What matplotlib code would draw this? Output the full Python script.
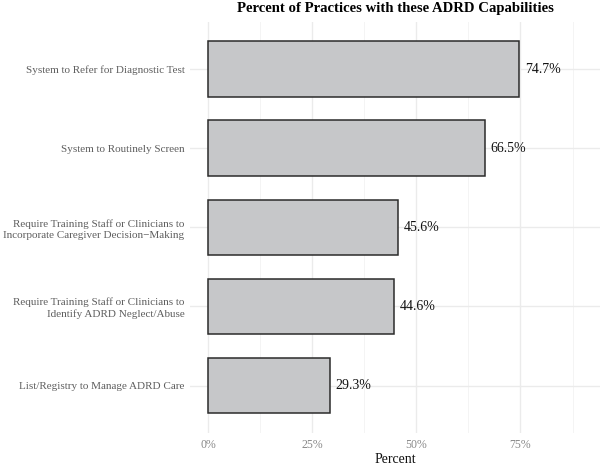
import matplotlib
matplotlib.use("Agg")
import matplotlib.pyplot as plt
from matplotlib.ticker import MultipleLocator, FuncFormatter

# data, top to bottom as in the chart
capabilities = [
    "System to Refer for Diagnostic Test",
    "System to Routinely Screen",
    "Require Training Staff or Clinicians to\nIncorporate Caregiver Decision\u2212Making",
    "Require Training Staff or Clinicians to\nIdentify ADRD Neglect/Abuse",
    "List/Registry to Manage ADRD Care",
]
percents = [74.7, 66.5, 45.6, 44.6, 29.3]

plt.rcParams['font.family'] = ['Liberation Serif', 'DejaVu Serif']

fig = plt.figure(figsize=(6, 4.65), dpi=100)
ax = fig.add_axes([190 / 600, 1 - 433 / 465, 410 / 600, (433 - 21.6) / 465])

ypos = list(range(len(capabilities)))[::-1]
ax.barh(ypos, percents, height=0.7, color="#C6C7C9", edgecolor="#2b2b2b",
        linewidth=1.1, zorder=3)

for y, p in zip(ypos, percents):
    ax.text(p + 1.3, y, f"{p}%", va="center", ha="left", fontsize=10,
            color="#111111", zorder=4)

ax.set_xlim(-4.4, 94.1)
ax.set_ylim(-0.6, len(capabilities) - 0.4)
ax.set_yticks(ypos)
ax.set_yticklabels(capabilities, fontsize=8.0, color="#5e5e5e", linespacing=1.3)
ax.xaxis.set_major_locator(MultipleLocator(25))
ax.xaxis.set_minor_locator(MultipleLocator(12.5))
ax.xaxis.set_major_formatter(FuncFormatter(lambda v, _: f"{v:.0f}%"))
ax.set_xticks([0, 25, 50, 75])
ax.tick_params(axis="x", labelsize=8.5, colors="#888888", length=0, pad=4)
ax.tick_params(axis="x", which="minor", length=0)
ax.tick_params(axis="y", length=0, pad=4)

ax.grid(which="major", color="#EBEBEB", linewidth=1.0, zorder=0)
ax.grid(which="minor", axis="x", color="#F2F2F2", linewidth=0.6, zorder=0)
for s in ax.spines.values():
    s.set_visible(False)

ax.set_xlabel("Percent", fontsize=10, color="#111111", labelpad=2)
ax.set_title("Percent of Practices with these ADRD Capabilities",
             fontsize=10.6, fontweight="bold", pad=7)

fig.savefig("out.png", dpi=100)
